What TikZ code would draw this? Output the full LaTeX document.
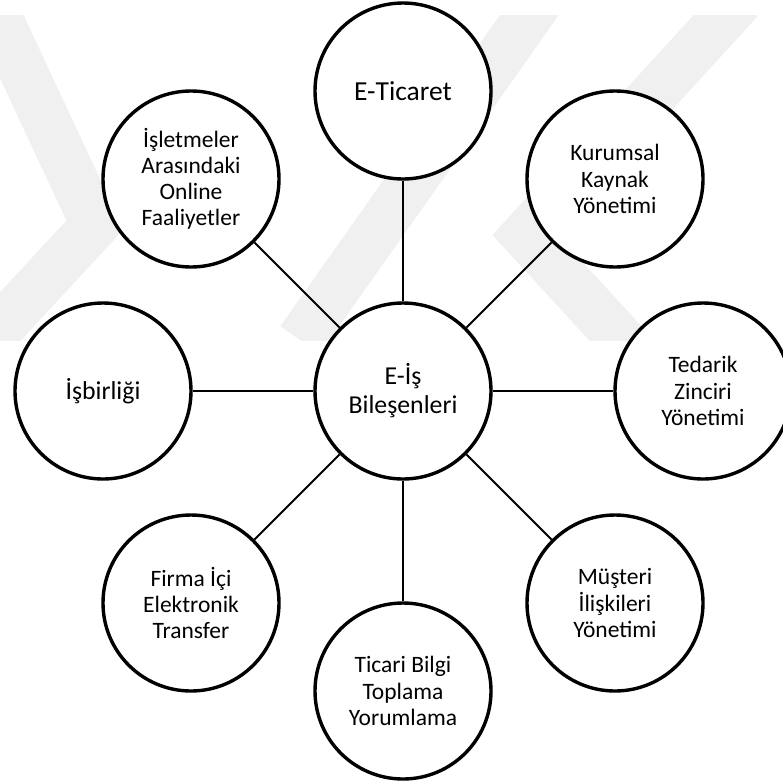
\documentclass[tikz,border=0pt]{standalone}
\usepackage{fontspec}
\setmainfont{Carlito}
\begin{document}
\begin{tikzpicture}[x=1pt,y=-1pt,
  bubble/.style={circle,draw=black,line width=3.4pt,fill=white,minimum size=176pt,inner sep=0pt,align=center,
    font=\fontsize{23.5}{26.2}\selectfont},
  link/.style={draw=black,line width=2pt},
  wmark/.style={draw=black!6,line width=48pt,line join=miter}]
\useasboundingbox (0,0) rectangle (783,782);
\fill[white] (0,0) rectangle (783,782);
\begin{scope}
\clip (0,15) rectangle (783,340);
\draw[wmark] (-10,0) -- (95,225) -- (-30,360);
\draw[wmark] (540,0) -- (300,340);
\draw[wmark] (740,0) -- (525,235) -- (640,360);
\end{scope}
\node[bubble,font=\fontsize{25.8}{29}\selectfont] (c) at (403,391) {E-İş\\Bileşenleri};
\node[bubble,font=\fontsize{27.5}{30}\selectfont] (n) at (403,91) {E-Ticaret};
\node[bubble] (ne) at (615,179) {Kurumsal\\Kaynak\\Yönetimi};
\node[bubble] (e) at (703,391) {Tedarik\\Zinciri\\Yönetimi};
\node[bubble] (se) at (615,603) {Müşteri\\İlişkileri\\Yönetimi};
\node[bubble] (s) at (403,691) {Ticari Bilgi\\Toplama\\Yorumlama};
\node[bubble] (sw) at (191,603) {Firma İçi\\Elektronik\\Transfer};
\node[bubble,font=\fontsize{25.8}{29}\selectfont] (w) at (103,391) {İşbirliği};
\node[bubble] (nw) at (191,179) {İşletmeler\\Arasındaki\\Online\\Faaliyetler};
\foreach \t in {n,ne,e,se,s,sw,w,nw} \draw[link] (c) -- (\t);
\end{tikzpicture}
\end{document}
